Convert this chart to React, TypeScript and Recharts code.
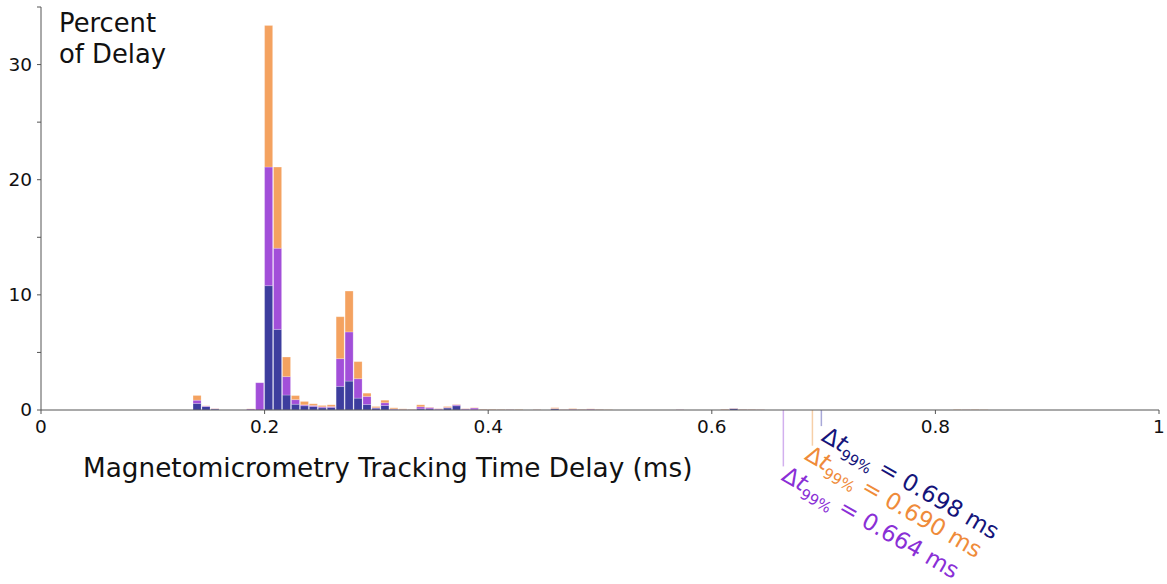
import React from "react";
import { BarChart, Bar, XAxis, YAxis, ReferenceLine } from "recharts";

// Histogram bin start times (ms); bin width 0.008 ms
const binStarts = [
  0.136, 0.144, 0.152, 0.184, 0.192, 0.2, 0.208, 0.216, 0.224, 0.232, 0.24, 0.248, 0.256,
  0.264, 0.272, 0.28, 0.288, 0.296, 0.304, 0.312, 0.32, 0.328, 0.336, 0.344, 0.352, 0.36,
  0.368, 0.376, 0.384, 0.392, 0.4, 0.408, 0.416, 0.424, 0.44, 0.456, 0.464, 0.472, 0.48,
  0.488, 0.496, 0.504, 0.568, 0.608, 0.616, 0.624, 0.632, 0.64, 0.816, 0.824, 0.832, 0.84,
];
const navyPct = [
  0.57, 0.3, 0.08, 0, 0, 10.8, 7.0, 1.3, 0.5, 0.37, 0.3, 0.19, 0.22,
  2.05, 2.51, 1.03, 0.48, 0.16, 0.39, 0.05, 0.02, 0.01, 0.1, 0.1, 0.03, 0.17,
  0.37, 0.03, 0.02, 0.01, 0, 0, 0.01, 0, 0, 0.1, 0, 0.02, 0.01,
  0.01, 0, 0, 0, 0, 0.13, 0.02, 0, 0, 0, 0, 0, 0,
];
const purplePct = [
  0.28, 0.05, 0.03, 0.08, 2.37, 10.3, 7.05, 1.6, 0.4, 0.08, 0.09, 0.09, 0.08,
  2.41, 4.27, 1.69, 0.7, 0.04, 0.24, 0.05, 0.03, 0.02, 0.18, 0.12, 0.07, 0.05,
  0.08, 0.07, 0.15, 0.02, 0.01, 0.01, 0.01, 0, 0.01, 0.03, 0.02, 0.05, 0.02,
  0.06, 0.02, 0, 0.02, 0.02, 0.02, 0.02, 0.02, 0.01, 0, 0.01, 0, 0,
];
const orangePct = [
  0.41, 0.02, 0.02, 0.02, 0, 12.3, 7.05, 1.7, 0.35, 0.29, 0.15, 0.11, 0.15,
  3.64, 3.55, 1.48, 0.28, 0.1, 0.22, 0.09, 0.05, 0.03, 0.17, 0.03, 0.02, 0.08,
  0.03, 0.02, 0.03, 0.04, 0.04, 0.03, 0.03, 0.03, 0.02, 0.07, 0.02, 0.05, 0.03,
  0.03, 0.03, 0.02, 0.01, 0.04, 0.02, 0.03, 0.03, 0.02, 0.03, 0.02, 0.03, 0.02,
];
const BIN_WIDTH = 0.008;
const BIN_COUNT = 125;

const xTicks = [0, 0.2, 0.4, 0.6, 0.8, 1];
const yTicks = [0, 5, 10, 15, 20, 25, 30, 35];

// 99th percentile delays (ms)
const delays99 = [
  { value: 0.698, color: "#14147a", line: "#a8a8d8", depth: 1.4, text: "0.698 ms", dx: -1, dy: 14 },
  { value: 0.69, color: "#ef8b3a", line: "#f6cfa8", depth: 3.1, text: "0.690 ms", dx: -9, dy: 13 },
  { value: 0.664, color: "#8a2fd6", line: "#d2b0ee", depth: 4.9, text: "0.664 ms", dx: -3, dy: 13 },
];

const data = binStarts.map((s, i) => ({
  x: s + BIN_WIDTH / 2,
  navy: navyPct[i],
  purple: purplePct[i],
  orange: orangePct[i],
}));

const FONT = "DejaVu Sans, Verdana, sans-serif";
const W = 1167;
const H = 584;
const M = { top: 7, right: 8, left: 0, bottom: 144 };
const Y_W = 41;
const PLOT_W = W - M.left - M.right - Y_W;

const YTick = (props: any) => {
  const { x, y, payload } = props;
  if (payload.value % 10 !== 0) return null;
  return (
    <text x={x} y={y} dy="0.35em" textAnchor="end" fontSize={18.5} fill="#111" fontFamily={FONT}>
      {payload.value}
    </text>
  );
};

const XTick = (props: any) => {
  const { x, y, payload } = props;
  return (
    <text x={x} y={y} dy="0.75em" textAnchor="middle" fontSize={18.5} fill="#111" fontFamily={FONT}>
      {String(payload.value)}
    </text>
  );
};

const makeLabel = (d: any) => (props: any) => {
  const vb = props.viewBox || {};
  const x0 = (vb.x ?? 0) + d.dx;
  const y0 = (vb.y ?? 0) + (vb.height ?? 0) + d.dy;
  return (
    <text
      x={x0}
      y={y0}
      transform={`rotate(30, ${x0}, ${y0})`}
      fontSize={23}
      fill={d.color}
      fontFamily={FONT}
    >
      Δ<tspan fontStyle="italic">t</tspan>
      <tspan fontSize={15} dy={6}>99%</tspan>
      <tspan dy={-6}>{" = " + d.text}</tspan>
    </text>
  );
};

export default function App() {
  return (
    <div style={{ position: "absolute", left: 0, top: 0, width: W, height: H, background: "#fff" }}>
      <BarChart width={W} height={H} data={data} margin={M} barCategoryGap={0} barGap={0}>
        <XAxis
          dataKey="x"
          type="number"
          domain={[0, 1]}
          ticks={xTicks}
          tick={<XTick />}
          tickSize={4}
          tickMargin={5}
          height={30}
          stroke="#555"
          allowDataOverflow
          label={(p: any) => (
            <text x={83} y={477} fontSize={26.3} fill="#111" fontFamily={FONT}>
              Magnetomicrometry Tracking Time Delay (ms)
            </text>
          )}
        />
        <YAxis
          type="number"
          domain={[0, 35]}
          ticks={yTicks}
          tick={<YTick />}
          tickSize={4}
          tickMargin={5}
          width={Y_W}
          stroke="#555"
          interval={0}
          label={(p: any) => (
            <text x={59} y={32} fontSize={25.8} fill="#111" fontFamily={FONT}>
              <tspan x={59} y={32}>Percent</tspan>
              <tspan x={59} y={63}>of Delay</tspan>
            </text>
          )}
        />
        <Bar dataKey="navy" stackId="a" fill="#3d3d9e" stroke="#ffffff" strokeOpacity={0.35} strokeWidth={0.6} barSize={PLOT_W / BIN_COUNT} isAnimationActive={false} />
        <Bar dataKey="purple" stackId="a" fill="#a24fd9" stroke="#ffffff" strokeOpacity={0.35} strokeWidth={0.6} barSize={PLOT_W / BIN_COUNT} isAnimationActive={false} />
        <Bar dataKey="orange" stackId="a" fill="#f4a260" stroke="#ffffff" strokeOpacity={0.35} strokeWidth={0.6} barSize={PLOT_W / BIN_COUNT} isAnimationActive={false} />
        {delays99.map((d) => (
          <ReferenceLine
            key={d.value}
            segment={[{ x: d.value, y: 0 }, { x: d.value, y: -d.depth }]}
            stroke={d.line}
            strokeWidth={1.5}
            ifOverflow="visible"
            label={makeLabel(d)}
          />
        ))}
      </BarChart>
    </div>
  );
}
